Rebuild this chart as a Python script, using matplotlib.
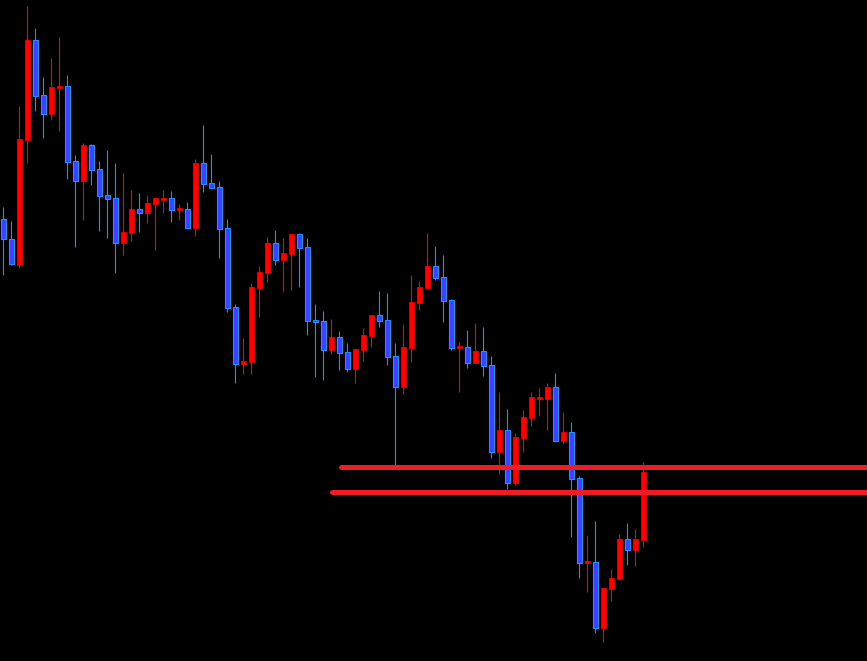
import numpy as np
import matplotlib
matplotlib.use("Agg")
import matplotlib.pyplot as plt

# candle data (price units), oldest first
opens = [442, 422, 396, 521, 621, 566, 547, 573, 575, 500,
         480, 516, 492, 466, 463, 418, 428, 452, 448, 457,
         462, 463, 452, 452, 433, 498, 478, 474, 433, 354,
         297, 299, 373, 388, 418, 401, 407, 427, 414, 341,
         340, 311, 324, 309, 292, 311, 325, 346, 341, 305,
         274, 313, 358, 373, 395, 384, 361, 314, 314, 298,
         310, 296, 209, 231, 178, 223, 243, 263, 262, 274,
         220, 229, 183, 99, 99, 33, 72, 82, 122, 111, 121]
highs = [454, 440, 555, 655, 633, 584, 603, 624, 586, 506,
         518, 517, 500, 511, 498, 488, 471, 468, 466, 463,
         471, 470, 457, 459, 502, 536, 507, 480, 442, 357,
         323, 378, 395, 424, 431, 423, 428, 428, 423, 357,
         350, 342, 330, 318, 312, 333, 346, 370, 368, 318,
         337, 386, 380, 428, 415, 406, 362, 319, 331, 338,
         334, 305, 269, 252, 228, 251, 269, 273, 278, 288,
         249, 239, 185, 126, 140, 73, 92, 127, 138, 132, 199]
lows = [386, 396, 393, 498, 550, 523, 541, 530, 482, 414,
        441, 476, 430, 423, 388, 406, 420, 429, 438, 411,
        448, 439, 441, 433, 425, 469, 473, 403, 349, 278,
        287, 287, 344, 379, 396, 369, 371, 374, 326, 284,
        281, 307, 291, 289, 278, 300, 314, 334, 296, 196,
        267, 299, 351, 372, 381, 339, 311, 269, 293, 298,
        285, 203, 187, 172, 176, 209, 235, 245, 231, 219,
        218, 124, 83, 69, 28, 19, 60, 81, 96, 95, 114]
closes = [422, 397, 522, 621, 565, 547, 574, 575, 499, 480,
          516, 491, 465, 462, 418, 429, 452, 448, 458, 463,
          463, 451, 452, 433, 498, 477, 473, 432, 353, 297,
          300, 374, 389, 418, 401, 408, 427, 413, 340, 340,
          311, 324, 308, 292, 312, 326, 346, 340, 304, 274,
          314, 359, 374, 395, 383, 360, 313, 314, 298, 310,
          295, 209, 231, 178, 224, 244, 264, 263, 274, 220,
          229, 182, 98, 99, 33, 73, 83, 122, 111, 122, 189]

# horizontal levels: price, first bar
levels = [194.5, 169.5]
level_start = [42.2, 41.1]

bull_col = "#ff0000"
bear_fill = "#4040ff"
bear_edge = "#1e90ff"
level_col = "#ee1c25"

o = np.array(opens, float)
h = np.array(highs, float)
l = np.array(lows, float)
c = np.array(closes, float)
x = np.arange(len(o))
up = c >= o

fig = plt.figure(figsize=(8.67, 6.61), dpi=100)
fig.patch.set_facecolor("black")
ax = fig.add_axes([0, 0, 1, 1])
ax.set_facecolor("black")

wick_cols = [bull_col if u else bear_edge for u in up]
ax.vlines(x, l, h, colors=wick_cols, linewidth=0.8, zorder=2)

bottom = np.minimum(o, c)
height = np.maximum(np.abs(c - o), 1.5)
bottom = np.where(np.abs(c - o) < 1.5, bottom - 0.75, bottom)
ax.bar(x[up], height[up], bottom=bottom[up], width=0.62,
       color=bull_col, edgecolor=bull_col, linewidth=0.5, zorder=3)
ax.bar(x[~up], height[~up], bottom=bottom[~up], width=0.62,
       color=bear_fill, edgecolor=bear_edge, linewidth=0.8, zorder=3)

xmax = 108
for lev, st in zip(levels, level_start):
    ax.plot([st, xmax + 2], [lev, lev], color=level_col, linewidth=3.6,
            solid_capstyle="round", zorder=4)

ax.set_xlim(-0.41, 107.96)
ax.set_ylim(0, 661)
ax.axis("off")

plt.savefig("out.png", dpi=100, facecolor="black")
